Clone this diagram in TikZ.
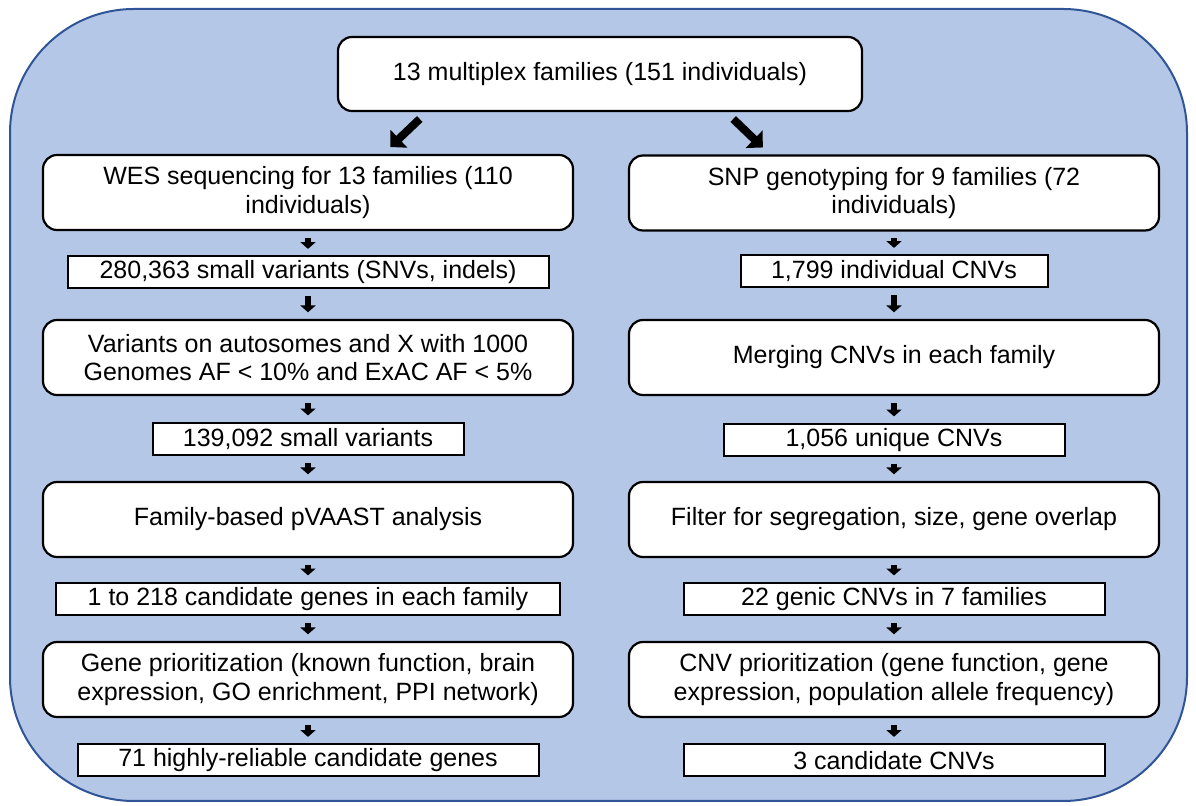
\documentclass[tikz,border=0pt]{standalone}
\usepackage{fontspec}
\setmainfont{Liberation Sans}
\usetikzlibrary{arrows.meta}
\definecolor{panelblue}{HTML}{B4C7E7}
\definecolor{paneledge}{HTML}{2F5597}

\begin{document}
\begin{tikzpicture}[x=0.5pt,y=-0.5pt,
	every node/.style={font=\fontsize{12.5pt}{14.2pt}\selectfont, align=center, inner sep=0pt},
	roundbox/.style={draw, fill=white, line width=1.1pt, rounded corners=7pt, minimum width=265pt, minimum height=37.5pt},
	flatbox/.style={draw, fill=white, line width=1pt, minimum height=16pt},
	bigarrow/.style={line width=4pt, -{Triangle[length=6pt,width=12pt]}, shorten <=5pt, shorten >=5pt},
	smallarrow/.style={line width=2.6pt, -{Triangle[length=3.4pt,width=7.5pt]}, shorten <=3.3pt, shorten >=3.3pt}]
	\useasboundingbox (0,0) rectangle (1196,806);
	\path[fill=panelblue, draw=paneledge, line width=1pt, rounded corners=62pt] (10,9) rectangle (1187,801);

	\node[roundbox, minimum width=262pt, minimum height=37pt] (top) at (600,74) {13 multiplex families (151 individuals)};

	% WES branch
	\node[roundbox] (wes) at (308,192.5) {WES sequencing for 13 families (110\\individuals)};
	\node[flatbox, minimum width=240.5pt] (snv) at (308,272.5) {280,363 small variants (SNVs, indels)};
	\node[roundbox] (freq) at (308,357.5) {Variants on autosomes and X with 1000\\Genomes AF < 10\% and ExAC AF < 5\%};
	\node[flatbox, minimum width=155.5pt] (rare) at (308,439) {139,092 small variants};
	\node[roundbox] (pvaast) at (308,519.5) {Family-based pVAAST analysis};
	\node[flatbox, minimum width=252pt] (cand) at (308,599) {1 to 218 candidate genes in each family};
	\node[roundbox] (geneprio) at (308,679.5) {Gene prioritization (known function, brain\\expression, GO enrichment, PPI network)};
	\node[flatbox, minimum width=230.5pt] (genes) at (308,760.5) {71 highly-reliable candidate genes};

	% SNP branch
	\node[roundbox] (snp) at (894,193) {SNP genotyping for 9 families (72\\individuals)};
	\node[flatbox, minimum width=153.5pt] (cnvall) at (894,271.5) {1,799 individual CNVs};
	\node[roundbox] (merge) at (894,357.5) {Merging CNVs in each family};
	\node[flatbox, minimum width=170.5pt] (cnvuniq) at (894,440) {1,056 unique CNVs};
	\node[roundbox] (filter) at (894,519.5) {Filter for segregation, size, gene overlap};
	\node[flatbox, minimum width=210.5pt] (genic) at (894,599) {22 genic CNVs in 7 families};
	\node[roundbox] (cnvprio) at (894,679.5) {CNV prioritization (gene function, gene\\expression, population allele frequency)};
	\node[flatbox, minimum width=210.5pt] (cnvs) at (894,760.5) {3 candidate CNVs};

	\draw[bigarrow] ([xshift=-86.5pt]top.south) -- ([xshift=37.5pt]wes.north);
	\draw[bigarrow] ([xshift=63pt]top.south) -- ([xshift=-62pt]snp.north);

	\foreach \a/\b in {wes/snv, snv/freq, freq/rare, rare/pvaast, pvaast/cand, cand/geneprio, geneprio/genes,
		snp/cnvall, cnvall/merge, merge/cnvuniq, cnvuniq/filter, filter/genic, genic/cnvprio, cnvprio/cnvs}
		\draw[smallarrow] (\a.south) -- (\b.north);
\end{tikzpicture}
\end{document}
